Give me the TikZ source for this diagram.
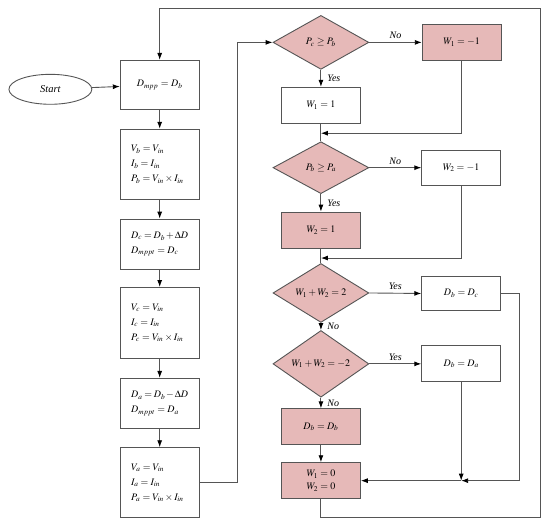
\documentclass[tikz,border=0pt]{standalone}
\usepackage{mathptmx}
\usepackage[no-math]{fontspec}
\setmainfont{Liberation Serif}
\usetikzlibrary{shapes.geometric,arrows.meta}
\definecolor{pinkfill}{RGB}{230,185,184}
\definecolor{linegray}{RGB}{85,85,85}
\begin{document}
\begin{tikzpicture}[x=1pt,y=-1pt,
  every path/.style={draw=linegray, line width=0.9pt},
  >={Latex[length=7pt,width=5pt,color=black]},
  lbox/.style={draw=linegray, line width=0.9pt, minimum width=79pt, text width=57pt, inner xsep=11pt, inner ysep=0pt, align=left, font=\fontsize{10}{15}\selectfont},
  rbox/.style={draw=linegray, line width=0.9pt, minimum width=79pt, minimum height=36pt, inner sep=0pt, align=center, font=\fontsize{10}{13}\selectfont},
  pbox/.style={rbox, fill=pinkfill},
  dec/.style={diamond, draw=linegray, line width=0.9pt, fill=pinkfill, inner sep=0pt, minimum width=96pt, minimum height=54pt, font=\fontsize{10}{12}\selectfont},
  lab/.style={font=\itshape\fontsize{10}{12}\selectfont, inner sep=3pt},
  rlab/.style={lab, right, xshift=3pt}
]
\useasboundingbox (0,0) rectangle (550,528);
\fill[white] (0,0) rectangle (550,528);

% left column
\node[ellipse, draw=linegray, line width=0.9pt, minimum width=83pt, minimum height=30pt, inner sep=0pt, font=\itshape\fontsize{10.5}{12}\selectfont] (start) at (50,89) {Start};
\node[lbox, minimum height=49pt, align=center] (b1) at (159.5,84.5) {$D_{mpp}=D_b$};
\node[lbox, minimum height=70pt] (b2) at (159.5,164) {$V_b=V_{in}$\\$I_b=I_{in}$\\$P_b=V_{in}\times I_{in}$};
\node[lbox, minimum height=50pt] (b3) at (159.5,244) {$D_c=D_b+\Delta D$\\$D_{mppt}=D_c$};
\node[lbox, minimum height=71pt] (b4) at (159.5,323) {$V_c=V_{in}$\\$I_c=I_{in}$\\$P_c=V_{in}\times I_{in}$};
\node[lbox, minimum height=50pt] (b5) at (159.5,403.5) {$D_a=D_b-\Delta D$\\$D_{mppt}=D_a$};
\node[lbox, minimum height=70pt] (b6) at (159.5,483) {$V_a=V_{in}$\\$I_a=I_{in}$\\$P_a=V_{in}\times I_{in}$};

% right column
\node[dec] (d1) at (321,42) {$P_c\geq P_b$};
\node[pbox] (w1m) at (462,42) {$W_1=-1$};
\node[rbox] (w1p) at (321,105) {$W_1=1$};
\node[dec, minimum height=52pt] (d2) at (321,167.5) {$P_b\geq P_a$};
\node[rbox, minimum height=35pt] (w2m) at (461.5,167.5) {$W_2=-1$};
\node[pbox] (w2p) at (321,230) {$W_2=1$};
\node[dec, minimum height=52pt] (d3) at (321,293) {$W_1+W_2=2$};
\node[rbox, minimum height=35pt] (dc) at (461.5,293.5) {$D_b=D_c$};
\node[dec, minimum height=52pt] (d4) at (321,364) {$W_1+W_2=-2$};
\node[rbox, minimum height=36pt] (da) at (461.5,364) {$D_b=D_a$};
\node[pbox] (dbb) at (321,427) {$D_b=D_b$};
\node[pbox] (w0) at (321,481) {$W_1=0$\\$W_2=0$};

% coordinates
\coordinate (loopBR) at (541,518);
\coordinate (loopTR) at (541,8);
\coordinate (c6) at (237,483);
\coordinate (m1) at (321,133);
\coordinate (m2) at (321,258);
\coordinate (rc) at (520,481);
\coordinate (j) at (461.5,481);

% left connectors
\draw[->] (start) -- (b1);
\draw[->] (b1) -- (b2);
\draw[->] (b2) -- (b3);
\draw[->] (b3) -- (b4);
\draw[->] (b4) -- (b5);
\draw[->] (b5) -- (b6);
\draw[->] (b6.east) -- (c6) |- (d1.west);

% right connectors
\draw[->] (d1.east) -- node[lab, above] {No} (w1m.west);
\draw[->] (d1.south) -- node[rlab] {Yes} (w1p.north);
\draw (w1p.south) -- (d2.north);
\draw[->] (w1m.south) |- (m1);
\draw[->] (d2.east) -- node[lab, above] {No} (w2m.west);
\draw[->] (d2.south) -- node[rlab] {Yes} (w2p.north);
\draw (w2p.south) -- (d3.north);
\draw[->] (w2m.south) |- (m2);
\draw[->] (d3.east) -- node[lab, above] {Yes} (dc.west);
\draw[->] (d3.south) -- node[rlab] {No} (d4.north);
\draw[->] (d4.east) -- node[lab, above] {Yes} (da.west);
\draw[->] (d4.south) -- node[rlab] {No} (dbb.north);
\draw[->] (dbb) -- (w0);
\draw[->] (dc.east) -| (rc) -- (j);
\draw[->] (da.south) -- (j);
\draw[->] (j) -- (w0.east);
\draw[->] (w0.south) |- (loopBR) -- (loopTR) -| (b1.north);
\end{tikzpicture}
\end{document}
